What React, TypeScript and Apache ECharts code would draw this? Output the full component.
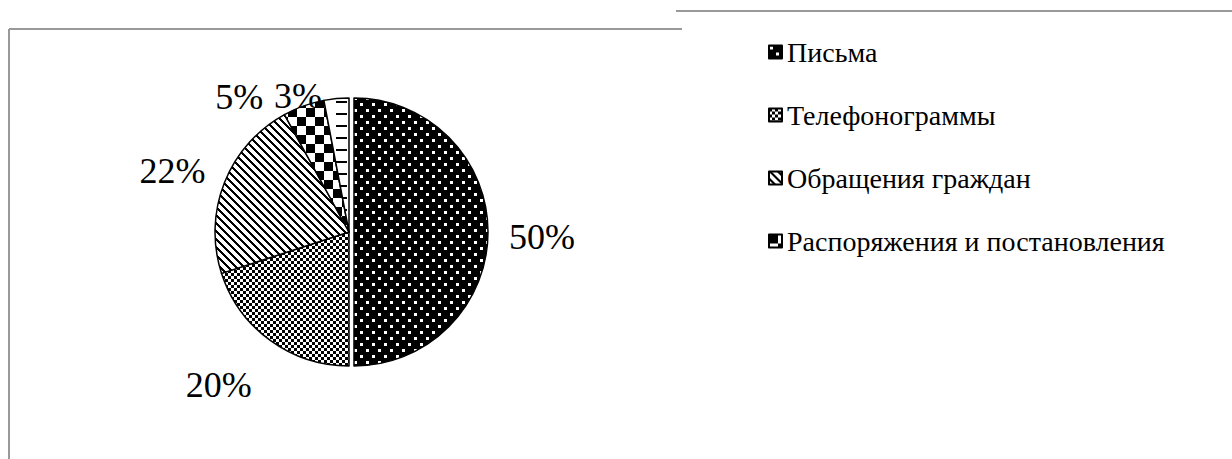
import React, { useEffect, useRef } from 'react';
import * as echarts from 'echarts';

const categories = ['Письма', 'Телефонограммы', 'Обращения граждан', 'Распоряжения и постановления', 'Прочие'];
const shares = [50, 20, 22, 5, 3];
const legendCategories = categories.slice(0, 4);
const labelNudges: [number, number][] = [[-3, 5], [-18, -2], [1, 9], [-45, 45], [-33, 54]];

function tile(w: number, h: number, draw: (ctx: CanvasRenderingContext2D) => void) {
  const c = document.createElement('canvas');
  c.width = w;
  c.height = h;
  const ctx = c.getContext('2d')!;
  draw(ctx);
  return c;
}

function makePatterns() {
  const dots = tile(12, 12, (ctx) => {
    ctx.fillStyle = '#000';
    ctx.fillRect(0, 0, 12, 12);
    ctx.fillStyle = '#fff';
    ctx.fillRect(1, 1, 3, 3);
    ctx.fillRect(7, 7, 3, 3);
  });
  const checkSmall = tile(6, 6, (ctx) => {
    ctx.fillStyle = '#fff';
    ctx.fillRect(0, 0, 6, 6);
    ctx.fillStyle = '#000';
    ctx.fillRect(0, 0, 3, 3);
    ctx.fillRect(3, 3, 3, 3);
  });
  const diag = tile(8, 8, (ctx) => {
    ctx.fillStyle = '#fff';
    ctx.fillRect(0, 0, 8, 8);
    ctx.fillStyle = '#000';
    for (let y = 0; y < 8; y++) {
      for (let k = 0; k < 3; k++) ctx.fillRect((y + k) % 8, y, 1, 1);
    }
  });
  const checkBig = tile(18, 18, (ctx) => {
    ctx.fillStyle = '#fff';
    ctx.fillRect(0, 0, 18, 18);
    ctx.fillStyle = '#000';
    ctx.fillRect(0, 0, 9, 9);
    ctx.fillRect(9, 9, 9, 9);
  });
  const dashes = tile(24, 12, (ctx) => {
    ctx.fillStyle = '#fff';
    ctx.fillRect(0, 0, 24, 12);
    ctx.fillStyle = '#000';
    ctx.fillRect(0, 5, 11, 2);
  });
  return [dots, checkSmall, diag, checkBig, dashes];
}

export default function App() {
  const ref = useRef<HTMLDivElement>(null);
  useEffect(() => {
    if (!ref.current) return;
    const chart = echarts.init(ref.current, null, { renderer: 'svg' });
    const patterns = makePatterns();
    const center = [349, 232];
    const font = "'Liberation Serif', serif";
    chart.setOption({
      animation: false,
      backgroundColor: '#fff',
      textStyle: { fontFamily: font },
      legend: {
        data: legendCategories,
        orient: 'vertical',
        left: 768,
        top: 38,
        padding: 0,
        itemWidth: 13,
        itemHeight: 13,
        itemGap: 35,
        icon: 'rect',
        selectedMode: false,
        textStyle: { fontFamily: font, fontSize: 28, color: '#000', lineHeight: 26 },
      },
      graphic: [
        { type: 'line', shape: { x1: 9, y1: 29, x2: 9, y2: 459 }, style: { stroke: '#999', lineWidth: 2 } },
        { type: 'line', shape: { x1: 9, y1: 29, x2: 682, y2: 29 }, style: { stroke: '#999', lineWidth: 2 } },
        { type: 'line', shape: { x1: 676, y1: 11, x2: 1232, y2: 11 }, style: { stroke: '#999', lineWidth: 2 } },
      ],
      series: [
        {
          type: 'pie',
          center,
          radius: [0, 134],
          startAngle: 90,
          clockwise: true,
          selectedMode: 'single',
          selectedOffset: 5,
          silent: true,
          label: { show: false },
          labelLine: { show: false },
          itemStyle: { borderColor: '#000', borderWidth: 1.5 },
          data: categories.map((name, i) => ({
            name,
            value: shares[i],
            selected: i === 0,
            itemStyle: { color: { image: patterns[i], repeat: 'repeat' } },
          })),
        },
        {
          type: 'pie',
          center,
          radius: [0, 376],
          startAngle: 90,
          clockwise: true,
          selectedMode: 'single',
          selectedOffset: 5,
          silent: true,
          itemStyle: { color: 'rgba(0,0,0,0)', borderWidth: 0 },
          label: {
            show: true,
            position: 'inside',
            formatter: '{c}%',
            fontFamily: font,
            fontSize: 36,
            color: '#000',
          },
          labelLine: { show: false },
          labelLayout: (p: any) => ({ dx: labelNudges[p.dataIndex][0], dy: labelNudges[p.dataIndex][1] }),
          data: categories.map((name, i) => ({ name, value: shares[i], selected: i === 0 })),
        },
      ],
    });
    return () => chart.dispose();
  }, []);
  return (
    <div
      ref={ref}
      style={{ position: 'absolute', left: 0, top: 0, width: 1232, height: 459, background: '#fff' }}
    />
  );
}
